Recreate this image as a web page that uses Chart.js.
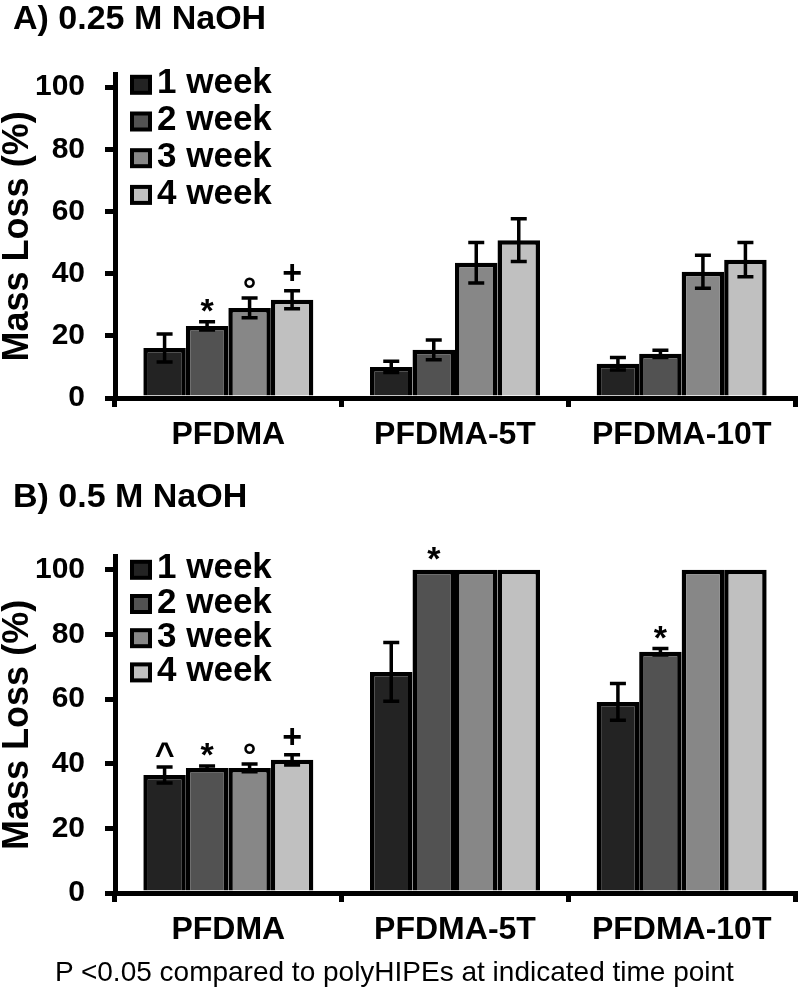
<!DOCTYPE html>
<html>
<head>
<meta charset="utf-8">
<script src="https://cdn.jsdelivr.net/npm/chart.js@4.4.1/dist/chart.umd.min.js"></script>
<style>
  html, body { margin: 0; padding: 0; background: #fff; }
  body { width: 800px; height: 990px; position: relative; overflow: hidden; }
  canvas { position: absolute; left: 0; }
  #chartA { top: 0; }
  #chartB { top: 470px; }
  #note {
    position: absolute; left: 55px; top: 958px;
    font: 28px/28px 'Liberation Sans', Arial, sans-serif;
    color: #000; white-space: nowrap;
  }
</style>
</head>
<body>
<canvas id="chartA" width="800" height="470"></canvas>
<canvas id="chartB" width="800" height="520"></canvas>
<div id="note">P &lt;0.05 compared to polyHIPEs at indicated time point</div>
<script>
const groups = ['PFDMA', 'PFDMA-5T', 'PFDMA-10T']
const weeks = ['1 week', '2 week', '3 week', '4 week']
const yTicks = [0, 20, 40, 60, 80, 100]

// A) 0.25 M NaOH - mass loss (%) and error per week
const lossA1 = [16.1, 10.0, 11.0]
const lossA2 = [23.2, 15.5, 14.2]
const lossA3 = [29.0, 43.5, 40.6]
const lossA4 = [31.6, 50.8, 44.5]
const errA1 = [4.5, 1.8, 2.0]
const errA2 = [1.3, 3.2, 1.2]
const errA3 = [3.2, 6.5, 5.3]
const errA4 = [2.9, 6.9, 5.5]
const markA1 = ['', '', '']
const markA2 = ['*', '', '']
const markA3 = ['°', '', '']
const markA4 = ['+', '', '']

// B) 0.5 M NaOH
const lossB1 = [36.5, 68.4, 59.1]
const lossB2 = [38.7, 100, 74.6]
const lossB3 = [38.7, 100, 100]
const lossB4 = [41.2, 100, 100]
const errB1 = [2.5, 9.1, 5.7]
const errB2 = [0.6, 0, 1.0]
const errB3 = [1.2, 0, 0]
const errB4 = [1.6, 0, 0]
const markB1 = ['^', '', '']
const markB2 = ['*', '*', '*']
const markB3 = ['°', '', '']
const markB4 = ['+', '', '']

const weekColors = ['#232323', '#525252', '#878787', '#c0c0c0']
const family = "'Liberation Sans', Arial, sans-serif"

const errorBars = {
  id: 'errorBars',
  afterDatasetsDraw(chart) {
    const ctx = chart.ctx
    const y = chart.scales.y
    ctx.save()
    ctx.strokeStyle = '#000'
    ctx.lineWidth = 3.5
    chart.data.datasets.forEach((ds, i) => {
      chart.getDatasetMeta(i).data.forEach((bar, j) => {
        const e = ds.errors[j]
        if (!e) return
        const top = y.getPixelForValue(ds.data[j] + e)
        const bot = y.getPixelForValue(ds.data[j] - e)
        ctx.beginPath()
        ctx.moveTo(bar.x, top); ctx.lineTo(bar.x, bot)
        ctx.moveTo(bar.x - 8, top); ctx.lineTo(bar.x + 8, top)
        ctx.moveTo(bar.x - 8, bot); ctx.lineTo(bar.x + 8, bot)
        ctx.stroke()
      })
    })
    ctx.restore()
  }
}

// significance symbols sitting above the error bars
const sigMarks = {
  id: 'sigMarks',
  afterDatasetsDraw(chart) {
    const ctx = chart.ctx
    const y = chart.scales.y
    ctx.save()
    ctx.font = 'bold 34px ' + family
    ctx.fillStyle = '#000'
    ctx.textAlign = 'center'
    ctx.textBaseline = 'alphabetic'
    chart.data.datasets.forEach((ds, i) => {
      chart.getDatasetMeta(i).data.forEach((bar, j) => {
        const m = ds.marks[j]
        if (!m) return
        const top = y.getPixelForValue(ds.data[j] + (ds.errors[j] || 0))
        const descent = ctx.measureText(m).actualBoundingBoxDescent
        ctx.fillText(m, bar.x, top - 10 - descent)
      })
    })
    ctx.restore()
  }
}

const boxLegend = {
  id: 'boxLegend',
  afterDraw(chart, args, opts) {
    const ctx = chart.ctx
    const area = chart.chartArea
    ctx.save()
    ctx.font = 'bold 35px ' + family
    ctx.textBaseline = 'middle'
    chart.data.datasets.forEach((ds, i) => {
      const cy = area.top + opts.top + i * opts.step
      const bx = area.left + 15
      ctx.fillStyle = ds.backgroundColor
      ctx.fillRect(bx + 2, cy - 8, 18, 16)
      ctx.lineWidth = 4
      ctx.strokeStyle = '#000'
      ctx.strokeRect(bx + 2, cy - 8, 18, 16)
      ctx.fillStyle = '#000'
      ctx.fillText(ds.label, bx + 27, cy - 1)
    })
    ctx.restore()
  }
}

function buildChart(id, titleText, titlePad, sets, legendTop, legendStep, xHeight) {
  return new Chart(document.getElementById(id), {
    type: 'bar',
    data: {
      labels: groups,
      datasets: sets.map((s, i) => ({
        label: weeks[i],
        data: s[0],
        errors: s[1],
        marks: s[2],
        backgroundColor: weekColors[i],
        borderColor: '#000',
        borderWidth: 4.5,
        categoryPercentage: 0.75,
        barPercentage: 1
      }))
    },
    options: {
      responsive: false,
      animation: false,
      devicePixelRatio: 1,
      layout: { padding: { left: 13, right: 5, top: 0, bottom: 0 } },
      plugins: {
        legend: { display: false },
        tooltip: { enabled: false },
        title: {
          display: true,
          text: titleText,
          align: 'start',
          color: '#000',
          font: { family: family, size: 34, weight: 'bold' },
          padding: titlePad
        },
        boxLegend: { top: legendTop, step: legendStep }
      },
      scales: {
        x: {
          offset: true,
          grid: { offset: true, drawOnChartArea: false, drawTicks: true, tickLength: 9, color: '#000', lineWidth: 5 },
          border: { display: true, color: '#000', width: 5, z: 1 },
          ticks: { color: '#000', font: { family: family, size: 32, weight: 'bold' }, padding: 9, maxRotation: 0 },
          afterFit: s => { s.height = xHeight }
        },
        y: {
          min: 0,
          max: 104,
          afterBuildTicks: s => { s.ticks = yTicks.map(v => ({ value: v })) },
          grid: { drawOnChartArea: false, drawTicks: true, tickLength: 10, color: '#000', lineWidth: 5 },
          border: { display: true, color: '#000', width: 5, z: 1 },
          ticks: { color: '#000', font: { family: family, size: 30, weight: 'bold' }, padding: 20 },
          title: {
            display: true,
            text: 'Mass Loss (%)',
            color: '#000',
            font: { family: family, size: 36, weight: 'bold', lineHeight: 1.2 },
            padding: { top: -17, bottom: 0 }
          },
          afterFit: s => { s.width = 102 }
        }
      }
    },
    plugins: [errorBars, sigMarks, boxLegend]
  })
}

const chartA = buildChart('chartA', 'A) 0.25 M NaOH', { top: -1, bottom: 35 }, [
  [lossA1, errA1, markA1],
  [lossA2, errA2, markA2],
  [lossA3, errA3, markA3],
  [lossA4, errA4, markA4]
], 10, 36.7, 72)

const chartB = buildChart('chartB', 'B) 0.5 M NaOH', { top: 7, bottom: 39 }, [
  [lossB1, errB1, markB1],
  [lossB2, errB2, markB2],
  [lossB3, errB3, markB3],
  [lossB4, errB4, markB4]
], 13, 34.2, 97)
</script>
</body>
</html>
